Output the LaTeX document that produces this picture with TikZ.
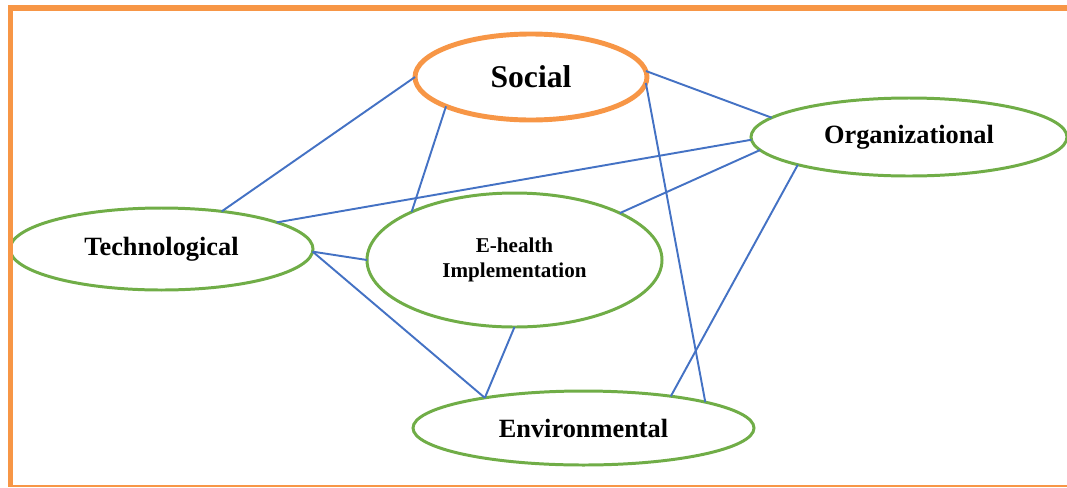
\documentclass[tikz,border=0pt]{standalone}
\usepackage{fontspec}
\setmainfont{Liberation Serif}
\usetikzlibrary{shapes.geometric}
\definecolor{borange}{HTML}{F79646}
\definecolor{egreen}{HTML}{70AD47}
\definecolor{lblue}{HTML}{4472C4}
\tikzset{
  ell/.style={ellipse, draw=egreen, line width=1.7pt, inner sep=0pt, outer sep=0pt, fill=white},
  socell/.style={ell, draw=borange, line width=2.8pt},
  link/.style={draw=lblue, line width=1.1pt},
  bigtxt/.style={font=\fontsize{15}{18}\selectfont\bfseries},
}
\begin{document}
\begin{tikzpicture}[x=0.02cm, y=-0.02cm]
\useasboundingbox (0,0) rectangle (1067,487);
\node[socell, minimum width=232*0.02cm, minimum height=86*0.02cm, font=\fontsize{18}{21}\selectfont\bfseries] (soc) at (531,77) {Social};
\node[ell, minimum width=316*0.02cm, minimum height=78*0.02cm, bigtxt] (org) at (909,137) {Organizational};
\node[ell, minimum width=303*0.02cm, minimum height=82*0.02cm, bigtxt] (tec) at (161.5,249) {Technological};
\node[ell, minimum width=295*0.02cm, minimum height=134*0.02cm, align=center, font=\fontsize{12}{14.2}\selectfont\bfseries] (eh) at (514.5,260) {E-health\\Implementation};
\node[ell, minimum width=341*0.02cm, minimum height=74*0.02cm, bigtxt] (env) at (583.5,428) {Environmental};
\draw[link] (soc.180) -- (tec.32.8);
\draw[link] (soc.199) -- (eh.155.1);
\draw[link] (soc.3.5) -- (org.172.7);
\draw[link] (soc.357.6) -- (env.12.2);
\draw[link] (org.181.5) -- (tec.13.9);
\draw[link] (org.185.9) -- (eh.24.7);
\draw[link] (org.194) -- (env.20.2);
\draw[link] (tec.359.6) -- (eh.180);
\draw[link] (tec.359.6) -- (env.163.3);
\draw[link] (eh.270) -- (env.163.3);
% frame
\coordinate (tl) at (8,8);
\coordinate (tr) at (1067,8);
\coordinate (lt) at (10.5,5);
\coordinate (lb) at (10.5,487);
\coordinate (bl) at (13,486);
\coordinate (br) at (1067,486);
\draw[borange, line width=3.4pt] (tl) -- (tr);
\draw[borange, line width=2.8pt] (lt) -- (lb);
\draw[borange, line width=1pt] (bl) -- (br);
\end{tikzpicture}
\end{document}
